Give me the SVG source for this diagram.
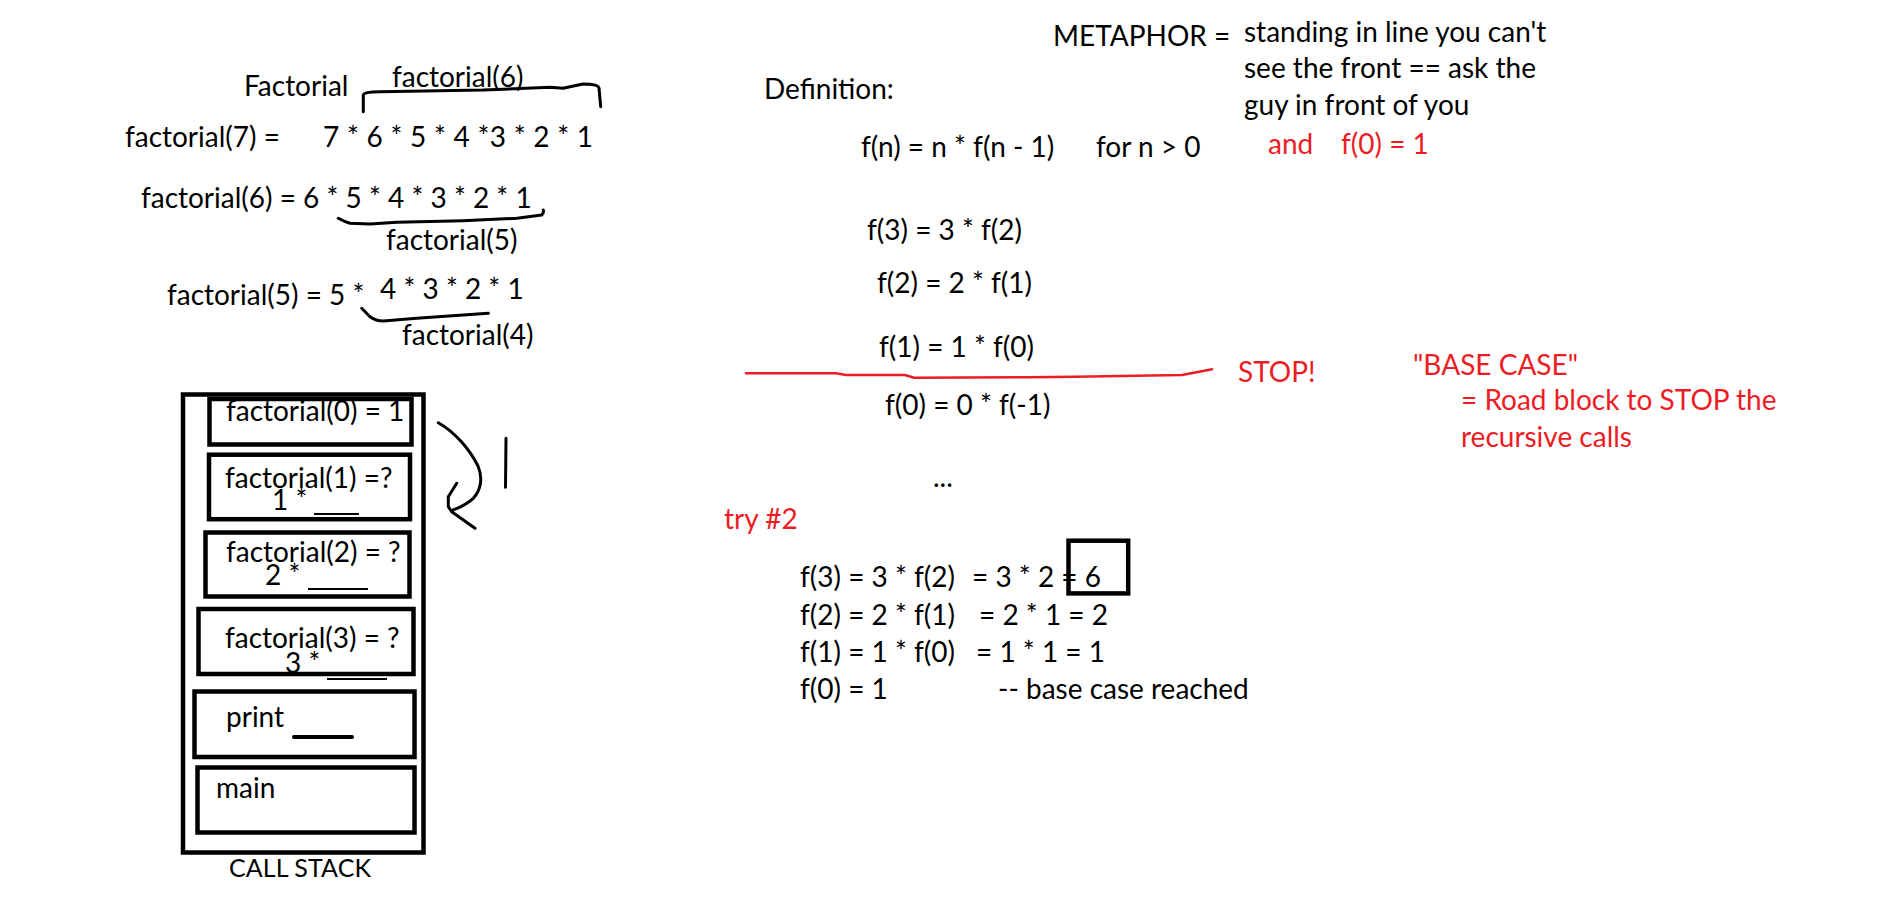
<svg xmlns="http://www.w3.org/2000/svg" width="1887" height="918" viewBox="0 0 1887 918">
<style>
text{font-family:Lato,"Open Sans","Liberation Sans",sans-serif;font-size:28px;fill:#000}
.r{fill:#ED1C24}
.box{fill:none;stroke:#000;stroke-width:4.5}
.ink{fill:none;stroke:#000;stroke-width:3;stroke-linecap:round;stroke-linejoin:round}
.thin{stroke:#000;stroke-width:2}
</style>
<rect width="1887" height="918" fill="#fff"/>
<g id="factorial-notes">
<text x="244" y="96">Factorial</text>
<text x="392" y="87">factorial(6)</text>
<text x="125" y="147">factorial(7) =</text>
<text x="323" y="147" textLength="270">7 * 6 * 5 * 4 *3 * 2 * 1</text>
<text x="141" y="208">factorial(6) = 6 * 5 * 4 * 3 * 2 * 1</text>
<text x="386" y="250">factorial(5)</text>
<text x="167" y="305">factorial(5) = 5 *</text>
<text x="380" y="299">4 * 3 * 2 * 1</text>
<text x="402" y="345">factorial(4)</text>
</g>
<g id="definition">
<text x="764" y="99">Definition:</text>
<text x="861" y="157">f(n) = n * f(n - 1)</text>
<text x="1096" y="157">for n &gt; 0</text>
<text x="867" y="240">f(3) = 3 * f(2)</text>
<text x="877" y="293">f(2) = 2 * f(1)</text>
<text x="879" y="357">f(1) = 1 * f(0)</text>
<text x="885" y="415">f(0) = 0 * f(-1)</text>
<text x="933" y="487">...</text>
</g>
<g id="metaphor">
<text x="1053" y="46">METAPHOR =</text>
<text x="1244" y="42">standing in line you can't</text>
<text x="1244" y="78">see the front == ask the</text>
<text x="1244" y="115">guy in front of you</text>
<text class="r" x="1268" y="154">and</text>
<text class="r" x="1341" y="154">f(0) = 1</text>
</g>
<g id="base-case">
<text class="r" x="1238" y="382">STOP!</text>
<text class="r" x="1413" y="375">"BASE CASE"</text>
<text class="r" x="1461" y="410">= Road block to STOP the</text>
<text class="r" x="1461" y="447">recursive calls</text>
</g>
<g id="try2">
<text class="r" x="724" y="529">try #2</text>
<text x="800" y="587">f(3) = 3 * f(2)</text>
<text x="972" y="587">= 3 * 2 = 6</text>
<text x="800" y="625">f(2) = 2 * f(1)</text>
<text x="979" y="625">= 2 * 1 = 2</text>
<text x="800" y="662">f(1) = 1 * f(0)</text>
<text x="976" y="662">= 1 * 1 = 1</text>
<text x="800" y="699">f(0) = 1</text>
<text x="998" y="699">-- base case reached</text>
<rect class="box" x="1068.5" y="540.7" width="59.7" height="52.7"/>
</g>
<g id="call-stack">
<rect class="box" x="183" y="394.5" width="240.5" height="458"/>
<g id="frame0">
<text x="226" y="421">factorial(0) = 1</text>
<rect class="box" x="209.5" y="399" width="202" height="45.5"/>
</g>
<g id="frame1">
<text x="225" y="488">factorial(1) =?</text>
<text x="272" y="510">1 *</text>
<line class="thin" x1="314" y1="514" x2="359" y2="514"/>
<rect class="box" x="209" y="454.7" width="201" height="64.5"/>
</g>
<g id="frame2">
<text x="226" y="562">factorial(2) = ?</text>
<text x="265" y="585">2 *</text>
<line class="thin" x1="308" y1="589" x2="368" y2="589"/>
<rect class="box" x="205.5" y="532.5" width="204" height="64"/>
</g>
<g id="frame3">
<text x="225" y="648">factorial(3) = ?</text>
<text x="285" y="673">3 *</text>
<line class="thin" x1="327" y1="679" x2="387" y2="679"/>
<rect class="box" x="198.5" y="609" width="215" height="65"/>
</g>
<g id="frame-print">
<text x="226" y="727">print</text>
<line x1="294" y1="737" x2="352" y2="737" stroke="#000" stroke-width="4" stroke-linecap="round"/>
<rect class="box" x="194.5" y="691.5" width="220" height="65.5"/>
</g>
<g id="frame-main">
<text x="216" y="798">main</text>
<rect class="box" x="197.5" y="767.5" width="217" height="65"/>
</g>
<text x="229" y="877" style="font-size:25px" textLength="142">CALL STACK</text>
</g>
<g id="connectors">
<path class="ink" d="M363.3,111.7 L363.3,95 Q364,91.7 380,91.7 L483,90 L550,87.3 L563,88.3 L583,84 Q598,84 599,88 L600.7,106.7"/>
<path class="ink" d="M338.3,218.3 Q345,222 350,223.3 L370,224 L397,222.3 L463,220.7 L517,218.3 L541.7,215 Q544,213 543.3,210"/>
<path class="ink" d="M361.7,308.3 L370,316.7 Q376,321 383.3,321 L416.7,318.3 L488.3,313.3"/>
<path fill="none" stroke="#ED1C24" stroke-width="2.5" stroke-linecap="round" stroke-linejoin="round" d="M746,373.3 L836,373.3 L846,375 L905,375 L914,377.7 L1029,377.3 L1075,376.7 L1182,375 L1212,369.3"/>
<path class="ink" d="M438.3,422.7 C455,432 470,450 478,466 C483,478 481,490 473.3,498.3 C466,505 458,508 453.3,510"/>
<path class="ink" d="M456.7,483.3 L448.3,496.7 L448.3,506.7 L451.7,511.7 L475,528.3"/>
<path class="ink" d="M506,438.3 L505.5,487.3"/>
</g>
</svg>
